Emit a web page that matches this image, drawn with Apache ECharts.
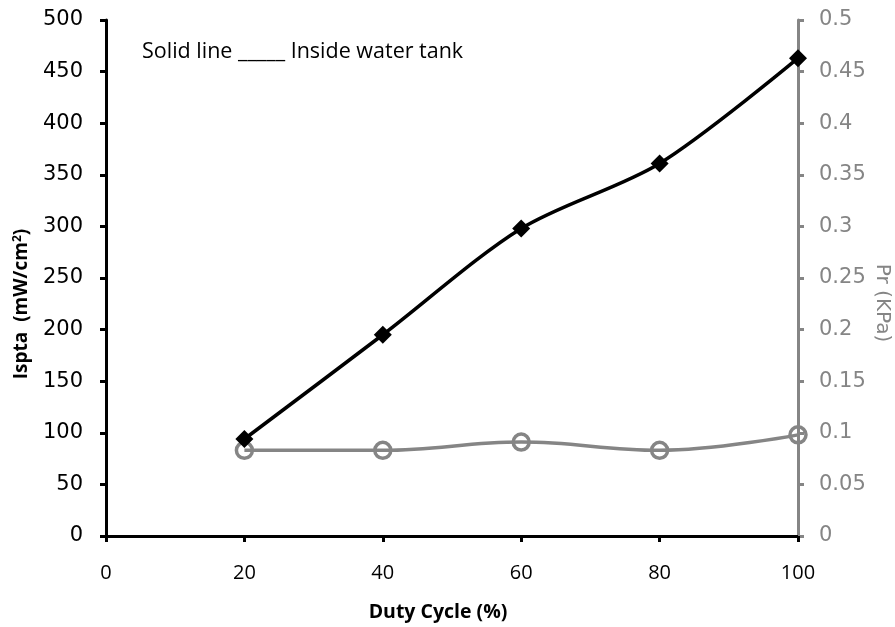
<!DOCTYPE html>
<html>
<head>
<meta charset="utf-8">
<script src="https://cdn.jsdelivr.net/npm/echarts@6/dist/echarts.min.js"></script>
<style>
  html, body { margin: 0; padding: 0; background: #fff; }
  #chart { width: 895px; height: 627px; }
</style>
</head>
<body>
<div id="chart"></div>
<script>
// Duty cycle (%) on the x axis
const dutyCycle = [20, 40, 60, 80, 100];
// Spatial-peak temporal-average intensity, mW/cm² (left axis)
const ispta = [94, 195, 298, 361, 463];
// Peak rarefactional pressure, kPa (right axis)
const pr = [0.083, 0.083, 0.091, 0.083, 0.098];

const GRAY = '#858585';
const tickFont = 'DejaVu Sans, Verdana, sans-serif';
const textFont = '"Open Sans", "Noto Sans", sans-serif';

const chart = echarts.init(document.getElementById('chart'));
chart.setOption({
  backgroundColor: '#ffffff',
  animation: false,
  grid: { left: 106, right: 97, top: 20, bottom: 91 },
  xAxis: {
    type: 'value', min: 0, max: 100, interval: 20,
    axisLine: { onZero: false, lineStyle: { color: '#000', width: 3 } },
    axisTick: { show: true, length: 6, lineStyle: { color: '#000', width: 3 } },
    axisLabel: { color: '#000', fontSize: 20, fontFamily: textFont, margin: 27 },
    splitLine: { show: false }
  },
  yAxis: [
    {
      type: 'value', min: 0, max: 500, interval: 50, position: 'left',
      axisLine: { show: true, lineStyle: { color: '#000', width: 3 } },
      axisTick: { show: true, length: 6, lineStyle: { color: '#000', width: 3 } },
      axisLabel: { color: '#000', fontSize: 21, fontFamily: tickFont, margin: 23 },
      splitLine: { show: false }
    },
    {
      type: 'value', min: 0, max: 0.5, interval: 0.05, position: 'right',
      axisLine: { show: true, lineStyle: { color: GRAY, width: 3 } },
      axisTick: { show: true, length: 6, lineStyle: { color: GRAY, width: 3 } },
      axisLabel: { color: GRAY, fontSize: 21, fontFamily: tickFont, margin: 21 },
      splitLine: { show: false }
    }
  ],
  graphic: [
    {
      type: 'text', x: 142, y: 52,
      style: {
        text: 'Solid line _____ Inside water tank', fill: '#000',
        fontSize: 21.5, fontFamily: textFont, verticalAlign: 'middle'
      }
    },
    {
      type: 'text', x: 438, y: 612,
      style: {
        text: 'Duty Cycle (%)', fill: '#000', align: 'center', verticalAlign: 'middle',
        fontSize: 19.5, fontWeight: 'bold', fontFamily: textFont
      }
    },
    {
      type: 'text', x: 22, y: 304, rotation: Math.PI / 2,
      style: {
        text: '{b|Ispta  (mW/cm}{s|2}{b|)}',
        align: 'center', verticalAlign: 'middle',
        rich: {
          b: { fill: '#000', fontSize: 19, fontWeight: 'bold', fontFamily: textFont },
          s: { fill: '#000', fontSize: 12, fontWeight: 'bold', fontFamily: textFont, padding: [0, 0, 9, 0] }
        }
      }
    },
    {
      type: 'text', x: 882, y: 303, rotation: -Math.PI / 2,
      style: {
        text: 'Pr (KPa)', align: 'center', verticalAlign: 'middle',
        fill: GRAY, fontSize: 20, fontFamily: tickFont
      }
    }
  ],
  series: [
    {
      name: 'Pr', type: 'line', yAxisIndex: 1, smooth: 0.4,
      data: dutyCycle.map((d, i) => [d, pr[i]]),
      symbol: 'circle', symbolSize: 16,
      lineStyle: { color: GRAY, width: 3.5 },
      itemStyle: { color: 'rgba(0,0,0,0)', borderColor: GRAY, borderWidth: 3.5 },
      z: 2
    },
    {
      name: 'Ispta', type: 'line', yAxisIndex: 0, smooth: 0.3,
      data: dutyCycle.map((d, i) => [d, ispta[i]]),
      symbol: 'diamond', symbolSize: 18,
      lineStyle: { color: '#000', width: 3.5 },
      itemStyle: { color: '#000' },
      z: 3
    }
  ]
});
</script>
</body>
</html>
